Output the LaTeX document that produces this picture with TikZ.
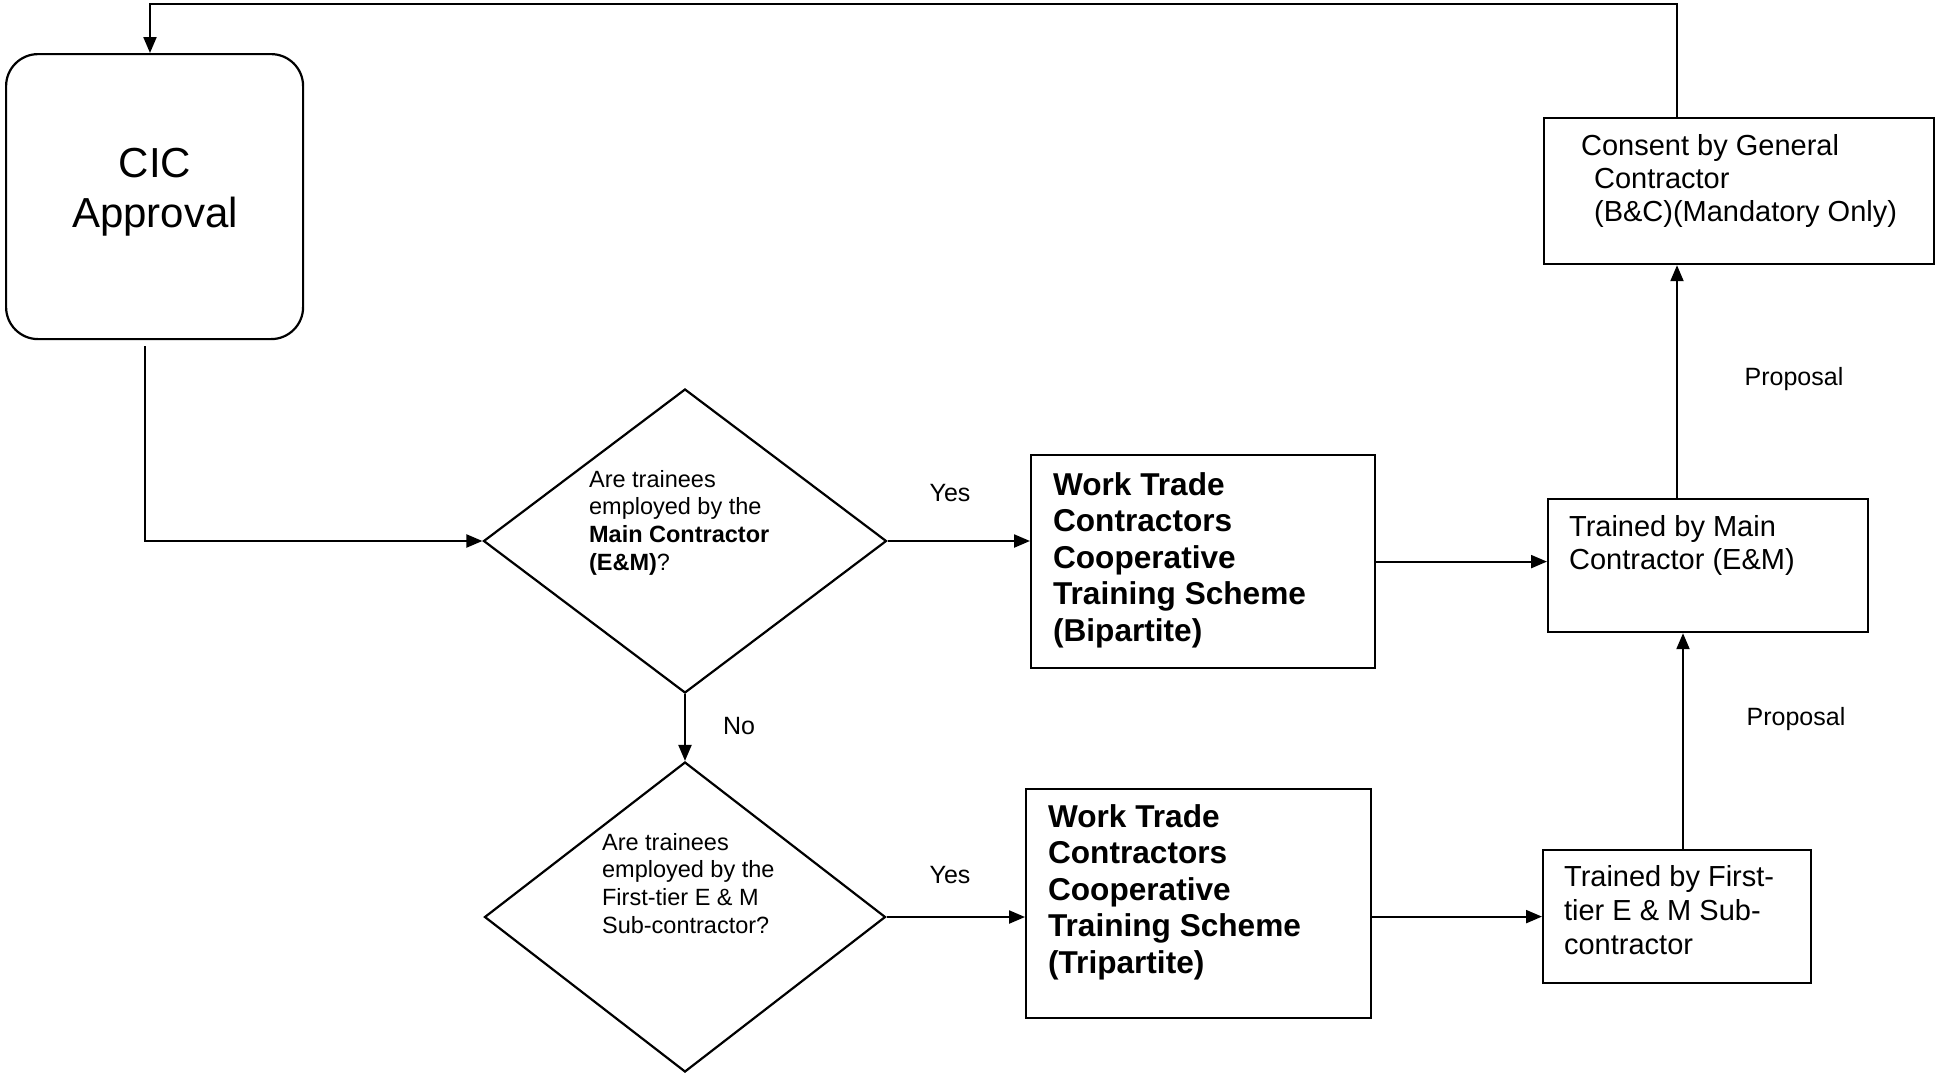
\documentclass[tikz,border=0pt]{standalone}
\usepackage{fontspec}
\setmainfont{Liberation Sans}
\usetikzlibrary{shapes.geometric,arrows.meta,calc}
\begin{document}
\begin{tikzpicture}[x=1pt,y=-1pt,
  line width=2.2pt,
  arr/.style={-{Triangle[length=16pt,width=13pt]}},
  boxnode/.style={draw,rectangle,anchor=north west,inner sep=0pt},
  decision/.style={draw,diamond,inner sep=0pt},
  txt/.style={anchor=base west,inner sep=0pt,align=left},
  lbl/.style={inner sep=0pt,font=\fontsize{25}{30}\selectfont}]
\useasboundingbox (0,0) rectangle (1937,1074);

% boxes
\node[boxnode,rounded corners=32pt,minimum width=297pt,minimum height=285pt] (cic) at (5,53) {};
\node[decision,minimum width=403pt,minimum height=304pt] (d1) at (685,541) {};
\node[decision,minimum width=401pt,minimum height=310pt] (d2) at (685,917) {};
\node[boxnode,minimum width=344pt,minimum height=213pt] (bip) at (1030,454) {};
\node[boxnode,minimum width=345pt,minimum height=229pt] (tri) at (1025,788) {};
\node[boxnode,minimum width=320pt,minimum height=133pt] (tm) at (1547,498) {};
\node[boxnode,minimum width=268pt,minimum height=133pt] (tf) at (1542,849) {};
\node[boxnode,minimum width=390pt,minimum height=146pt] (cons) at (1543,117) {};

% texts (anchor = baseline of the last line)
\node[inner sep=0pt,anchor=base,font=\fontsize{42}{50}\selectfont] (cictxt1) at (155,177) {CIC};
\node[inner sep=0pt,anchor=base,font=\fontsize{42}{50}\selectfont] (cictxt2) at (155,227) {Approval};
\node[txt,font=\fontsize{23.5}{27.6}\selectfont] (d1txt) at (588,570)
  {Are trainees\\employed by the\\\textbf{Main Contractor}\\\textbf{(E\&M)}?};
\node[txt,font=\fontsize{23.5}{27.6}\selectfont] (d2txt) at (601,933)
  {Are trainees\\employed by the\\First-tier E \& M\\Sub-contractor?};
\node[txt,font=\bfseries\fontsize{31.6}{36.5}\selectfont] (biptxt) at (1052,641)
  {Work Trade\\Contractors\\Cooperative\\Training Scheme\\(Bipartite)};
\node[txt,font=\bfseries\fontsize{31.6}{36.5}\selectfont] (tritxt) at (1047,973)
  {Work Trade\\Contractors\\Cooperative\\Training Scheme\\(Tripartite)};
\node[txt,font=\fontsize{29}{33}\selectfont] (tmtxt) at (1568,569)
  {Trained by Main\\Contractor (E\&M)};
\node[txt,font=\fontsize{29}{34}\selectfont] (tftxt) at (1563,954)
  {Trained by First-\\tier E \& M Sub-\\contractor};
\node[txt,font=\fontsize{29}{33}\selectfont] (constxt) at (1580,221)
  {Consent by General\\\hspace*{13pt}Contractor\\\hspace*{13pt}(B\&C)(Mandatory Only)};

% labels
\node[lbl] (yes1) at (950,493) {Yes};
\node[lbl] (yes2) at (950,875) {Yes};
\node[lbl] (no1) at (739,726) {No};
\node[lbl] (prop1) at (1794,379) {Proposal};
\node[lbl] (prop2) at (1796,719) {Proposal};

% helper coordinates
\coordinate (c0) at (145,346);
\coordinate (vx) at (1677,0);
\coordinate (vx2) at (1683,0);
\coordinate (tp) at (150,4);

% connectors
\draw[arr] (c0) |- (d1.west);
\draw[arr] (d1.east) -- (d1.east -| bip.west);
\draw[arr] (d1.south) -- (d2.north);
\draw[arr] (d2.east) -- (d2.east -| tri.west);
\draw[arr] (bip.east) -- (bip.east -| tm.west);
\draw[arr] (tf.west -| tri.east) -- (tf.west);
\draw[arr] (tf.north -| vx2) -- (tm.south -| vx2);
\draw[arr] (tm.north -| vx) -- (cons.south -| vx);
\draw[arr] (cons.north -| vx) |- (tp) -- (tp |- cic.north);
\end{tikzpicture}
\end{document}
